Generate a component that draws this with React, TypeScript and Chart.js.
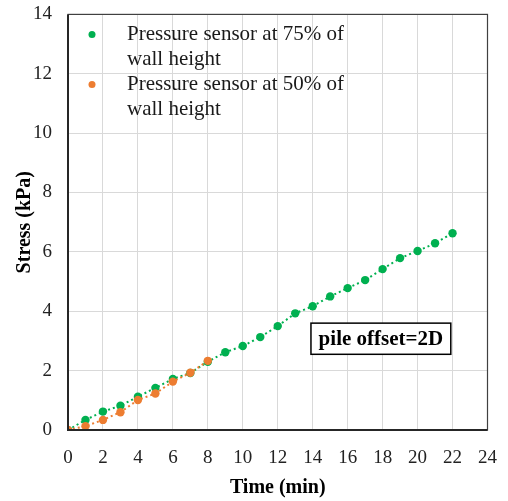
import React, { useEffect, useRef } from "react";
import { Chart, registerables } from "chart.js";

Chart.register(...registerables);

const timeGreen = [0, 1, 2, 3, 4, 5, 6, 7, 8, 9, 10, 11, 12, 13, 14, 15, 16, 17, 18, 19, 20, 21, 22];
const stressGreen = [0, 0.34, 0.62, 0.82, 1.12, 1.42, 1.72, 1.92, 2.3, 2.62, 2.83, 3.13, 3.5, 3.93, 4.17, 4.5, 4.78, 5.05, 5.42, 5.79, 6.03, 6.29, 6.63];
const timeOrange = [0, 1, 2, 3, 4, 5, 6, 7, 8];
const stressOrange = [0, 0.13, 0.34, 0.6, 1.01, 1.23, 1.63, 1.93, 2.33];
const legendLabels = [
  ["Pressure sensor at 75% of", "wall height"],
  ["Pressure sensor at 50% of", "wall height"],
];
const annotationText = "pile offset=2D";
const xTitle = "Time (min)";
const yTitle = "Stress (kPa)";

const GREEN = "#00B050";
const ORANGE = "#ED7D31";
const SERIF = "'Liberation Serif', 'Times New Roman', serif";

const CANVAS_TOP = -13;
const CANVAS_W = 514;
const CANVAS_H = 514;

const extrasPlugin = {
  id: "extras",
  beforeDraw(chart: any) {
    const ctx = chart.ctx;
    ctx.save();
    ctx.fillStyle = "#fff";
    ctx.fillRect(0, 0, chart.width, chart.height);
    ctx.restore();
  },
  afterDraw(chart: any) {
    const ctx = chart.ctx;
    const a = chart.chartArea;
    ctx.save();
    // frame
    ctx.strokeStyle = "#404040";
    ctx.lineWidth = 1.2;
    ctx.strokeRect(a.left, a.top, a.right - a.left, a.bottom - a.top);
    ctx.lineWidth = 2;
    ctx.strokeStyle = "#262626";
    ctx.beginPath();
    ctx.moveTo(a.left, a.top);
    ctx.lineTo(a.left, a.bottom);
    ctx.lineTo(a.right, a.bottom);
    ctx.stroke();

    // legend
    const colors = [GREEN, ORANGE];
    ctx.font = `21px ${SERIF}`;
    ctx.textBaseline = "middle";
    ctx.textAlign = "left";
    legendLabels.forEach((lines, i) => {
      const cy = a.top + 20 + i * 50;
      ctx.fillStyle = colors[i];
      ctx.beginPath();
      ctx.arc(a.left + 24, cy, 3.5, 0, Math.PI * 2);
      ctx.fill();
      ctx.fillStyle = "#1a1a1a";
      lines.forEach((ln, j) => {
        ctx.fillText(ln, a.left + 59, cy + j * 25);
      });
    });

    // annotation box (positioned in data coordinates)
    const xs = chart.scales.x;
    const ys = chart.scales.y;
    const bx = xs.getPixelForValue(13.9);
    const bx2 = xs.getPixelForValue(21.9);
    const by = ys.getPixelForValue(3.6);
    const by2 = ys.getPixelForValue(2.55);
    const bw = bx2 - bx, bh = by2 - by;
    ctx.fillStyle = "#fff";
    ctx.fillRect(bx, by, bw, bh);
    ctx.strokeStyle = "#000";
    ctx.lineWidth = 1.5;
    ctx.strokeRect(bx, by, bw, bh);
    ctx.fillStyle = "#000";
    ctx.font = `bold 21px ${SERIF}`;
    ctx.textAlign = "center";
    ctx.fillText(annotationText, bx + bw / 2, by + bh / 2 + 1);
    ctx.restore();
  },
};

export default function App() {
  const ref = useRef<HTMLCanvasElement>(null);
  useEffect(() => {
    if (!ref.current) return;
    const chart = new Chart(ref.current, {
      type: "scatter",
      data: {
        datasets: [
          {
            label: legendLabels[1].join(" "),
            data: timeOrange.map((t, i) => ({ x: t, y: stressOrange[i] })),
            showLine: true,
            borderColor: ORANGE,
            backgroundColor: ORANGE,
            borderWidth: 2,
            borderDash: [2, 3],
            pointRadius: 4.2,
            pointBorderWidth: 0,
          },
          {
            label: legendLabels[0].join(" "),
            data: timeGreen.map((t, i) => ({ x: t, y: stressGreen[i] })),
            showLine: true,
            borderColor: GREEN,
            backgroundColor: GREEN,
            borderWidth: 2,
            borderDash: [2, 3],
            pointRadius: 4.2,
            pointBorderWidth: 0,
          },
        ],
      },
      options: {
        responsive: false,
        animation: false,
        layout: { padding: { left: 0, top: 0, right: 17, bottom: 0 } },
        plugins: { legend: { display: false }, tooltip: { enabled: false } },
        scales: {
          x: {
            type: "linear",
            min: 0,
            max: 24,
            ticks: { stepSize: 2, color: "#222", font: { family: SERIF, size: 19 }, padding: 17 },
            grid: { color: "#d9d9d9", lineWidth: 1, drawTicks: false },
            border: { display: false },
            title: {
              display: true,
              text: xTitle,
              color: "#000",
              font: { family: SERIF, size: 20, weight: "bold" },
              padding: { top: 0, bottom: 1 },
            },
            afterFit(scale: any) {
              scale.height = 71;
            },
          },
          y: {
            type: "linear",
            min: 0,
            max: 14,
            ticks: { stepSize: 2, color: "#222", font: { family: SERIF, size: 19 }, padding: 16 },
            grid: { color: "#d9d9d9", lineWidth: 1, drawTicks: false },
            border: { display: false },
            title: {
              display: true,
              text: yTitle,
              color: "#000",
              font: { family: SERIF, size: 20, weight: "bold" },
              padding: { top: 13, bottom: 0 },
            },
            afterFit(scale: any) {
              scale.width = 68;
            },
          },
        },
      },
      plugins: [extrasPlugin],
    } as any);
    return () => chart.destroy();
  }, []);
  return (
    <div style={{ position: "fixed", left: 0, top: 0, width: 508, height: 501, background: "#fff", overflow: "hidden" }}>
      <canvas
        ref={ref}
        width={CANVAS_W}
        height={CANVAS_H}
        style={{ position: "absolute", left: 0, top: CANVAS_TOP }}
      />
    </div>
  );
}
